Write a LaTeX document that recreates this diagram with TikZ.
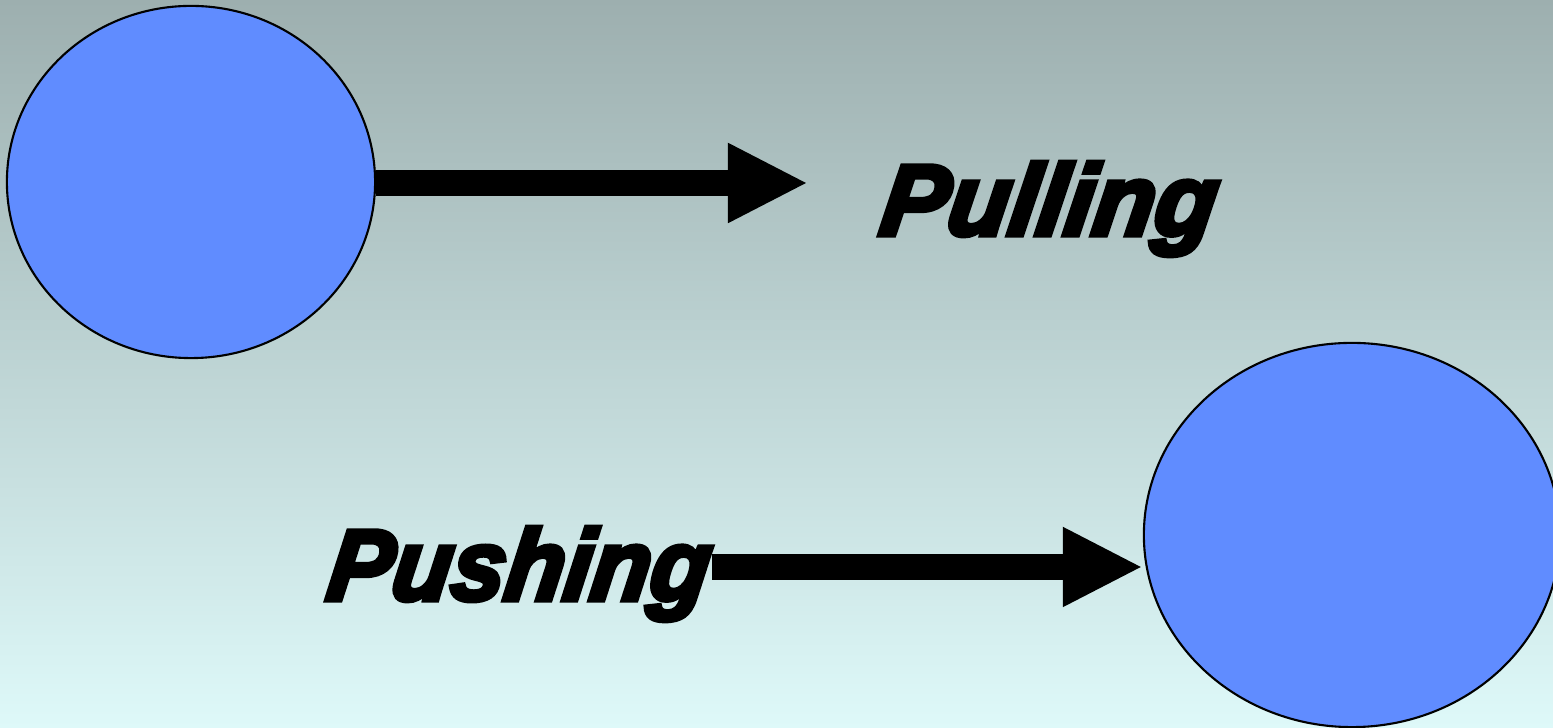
\documentclass[tikz,border=0pt]{standalone}
\usepackage{fontspec}
\usetikzlibrary{shapes.geometric,arrows.meta}
\newfontfamily\headfont{Liberation Sans}[BoldItalicFeatures={FakeBold=5,FakeSlant=0.14}]
\definecolor{bgtop}{HTML}{9DAFAF}
\definecolor{bgbot}{HTML}{DEF9F9}
\definecolor{ballblue}{HTML}{608CFF}
\tikzset{
  ball/.style={ellipse, draw=black, line width=0.6pt, fill=ballblue, inner sep=0pt},
  label text/.style={inner sep=0pt, anchor=base west,
    font=\headfont\bfseries\itshape\fontsize{28.6pt}{30pt}\selectfont},
  fat arrow/.style={line width=0.26cm, -{Triangle[length=0.8cm,width=0.74cm]}}
}
\begin{document}
\begin{tikzpicture}[x=0.01cm, y=-0.01cm]
  \useasboundingbox (0,0) rectangle (1553,728);
  \clip (0,0) rectangle (1553,728);
  \shade[top color=bgtop, bottom color=bgbot] (0,0) rectangle (1553,728);

  % the two bodies
  \node[ball, minimum width=3.68cm, minimum height=3.52cm] (e1) at (191,182) {};
  \node[ball, minimum width=4.16cm, minimum height=3.84cm] (e2) at (1352,535) {};

  % captions
  \node[label text] (pull) at (877,235) {Pulling};
  \node[label text] (push) at (324,600) {\scalebox{0.962}[1]{Pushing}};

  % pulling: arrow leaves the upper body
  \coordinate (pullend) at (808,183);
  \draw[fat arrow] (e1.east |- pullend) -- (pullend);

  % pushing: arrow drives into the lower body
  \coordinate (pushstart) at (712,567);
  \draw[fat arrow] (pushstart) -- (e2.west |- pushstart);
\end{tikzpicture}
\end{document}
